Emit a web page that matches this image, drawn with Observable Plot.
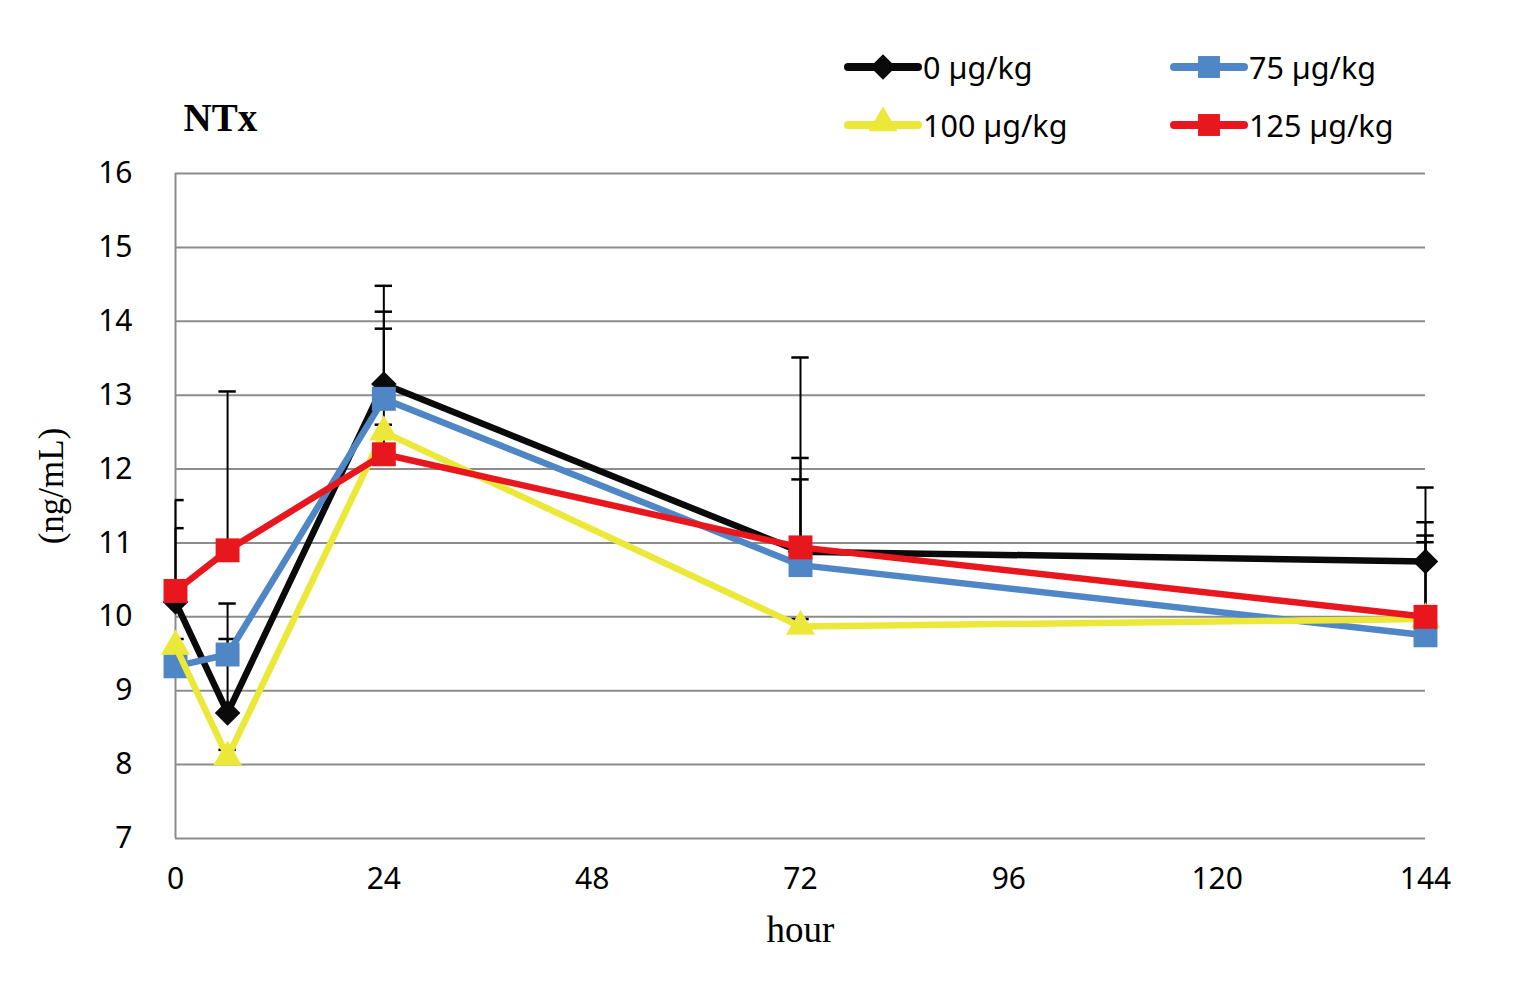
<!DOCTYPE html>
<html>
<head>
<meta charset="utf-8">
<script src="https://cdn.jsdelivr.net/npm/d3@7"></script>
<script src="https://cdn.jsdelivr.net/npm/@observablehq/plot@0.6"></script>
<style>
  html, body { margin: 0; padding: 0; background: #fff; }
  #wrap { position: relative; width: 1540px; height: 988px; }
  #legend { position: absolute; left: 843px; top: 38px; display: grid;
            grid-template-columns: 326px 240px; grid-auto-rows: 58px;
            font-family: "Noto Sans", sans-serif; font-size: 30.5px; color: #000; }
  .item { display: flex; align-items: center; }
  .item svg { display: block; margin-right: 0px; }
</style>
</head>
<body>
<div id="wrap"><div id="legend"></div></div>
<script>
// ---- data ----
const hours = [0, 6, 24, 72, 144];
const xTicks = [0, 24, 48, 72, 96, 120, 144];
const yTicks = [7, 8, 9, 10, 11, 12, 13, 14, 15, 16];
const doses = ["0 µg/kg", "75 µg/kg", "100 µg/kg", "125 µg/kg"];
const colors = ["#0a0a0a", "#4f86c6", "#ece83a", "#e8161d"];
const symbols = ["diamond2", "square", "triangle", "square"];

const mean0   = [10.20, 8.70, 13.15, 10.88, 10.75];
const mean75  = [9.33, 9.49, 12.95, 10.70, 9.75];
const mean100 = [9.60, 8.10, 12.50, 9.87, 9.97];
const mean125 = [10.35, 10.90, 12.20, 10.94, 10.00];

const upper0   = [11.58, 10.18, 14.48, 13.51, 11.75];
const upper75  = [9.50, 9.70, 14.13, 11.86, 11.10];
const upper100 = [9.70, 8.20, 12.60, 9.97, 11.01];
const upper125 = [11.20, 13.05, 13.90, 12.15, 11.28];

const means = [mean0, mean75, mean100, mean125];
const uppers = [upper0, upper75, upper100, upper125];

const series = doses.map((dose, s) =>
  hours.map((t, i) => ({dose, t, mean: means[s][i], upper: uppers[s][i]})));
const allRows = series.flat();

const symR = {diamond2: 11.5, square: 13.5, triangle: 10.8};

const marks = [
  Plot.ruleY(yTicks, {stroke: "#8c8c8c", strokeWidth: 2}),
  Plot.ruleX([0], {stroke: "#8c8c8c", strokeWidth: 2}),
  Plot.axisX({ticks: xTicks, tickSize: 0, tickPadding: 29, label: null, tickFormat: d => d}),
  Plot.axisY({ticks: yTicks, tickSize: 0, tickPadding: 43, label: null}),
  // error bars (upper only)
  Plot.ruleX(allRows, {x: "t", y1: "mean", y2: "upper", stroke: "#000", strokeWidth: 2}),
  Plot.ruleY(allRows, {y: "upper", x1: d => Math.max(0, d.t - 1), x2: d => d.t + 1, stroke: "#000", strokeWidth: 2.5}),
];
series.forEach((rows, s) => {
  marks.push(Plot.line(rows, {x: "t", y: "mean", stroke: colors[s], strokeWidth: 6.5}));
  marks.push(Plot.dot(rows, {x: "t", y: "mean", symbol: symbols[s], r: symR[symbols[s]],
    fill: colors[s], stroke: "none"}));
});
marks.push(
  Plot.text(["hour"], {frameAnchor: "bottom", lineAnchor: "middle", dy: 92, fontFamily: "Liberation Serif", fontSize: 37}),
  Plot.text(["(ng/mL)"], {frameAnchor: "left", textAnchor: "middle", dx: -124, dy: -20, rotate: -90, fontFamily: "Liberation Serif", fontSize: 35}),
  Plot.text(["NTx"], {frameAnchor: "top-left", lineAnchor: "middle", dx: 8, dy: -55, textAnchor: "start", fontFamily: "Liberation Serif", fontWeight: "bold", fontSize: 39})
);

const chart = Plot.plot({
  width: 1540, height: 988,
  marginLeft: 175, marginRight: 115, marginTop: 173, marginBottom: 150,
  x: {domain: [0, 144]},
  y: {domain: [7, 16]},
  style: {fontFamily: "Noto Sans", fontSize: "30px", color: "#000", background: "#fff"},
  marks
});
document.getElementById("wrap").prepend(chart);

// legend
const legend = d3.select("#legend");
const legendSym = {diamond2: d3.symbolDiamond2, square: d3.symbolSquare, triangle: d3.symbolTriangle};
const legendSize = {diamond2: 420, square: 480, triangle: 360};
doses.forEach((dose, s) => {
  const item = legend.append("div").attr("class", "item");
  const svg = item.append("svg").attr("width", 80).attr("height", 40);
  svg.append("line").attr("x1", 5).attr("x2", 75).attr("y1", 20).attr("y2", 20)
    .attr("stroke", colors[s]).attr("stroke-width", 8).attr("stroke-linecap", "round");
  svg.append("path").attr("transform", symbols[s] === "triangle" ? "translate(40,18)" : "translate(40,20)")
    .attr("d", d3.symbol(legendSym[symbols[s]], legendSize[symbols[s]])()).attr("fill", colors[s]);
  item.append("span").text(dose);
});
</script>
</body>
</html>
